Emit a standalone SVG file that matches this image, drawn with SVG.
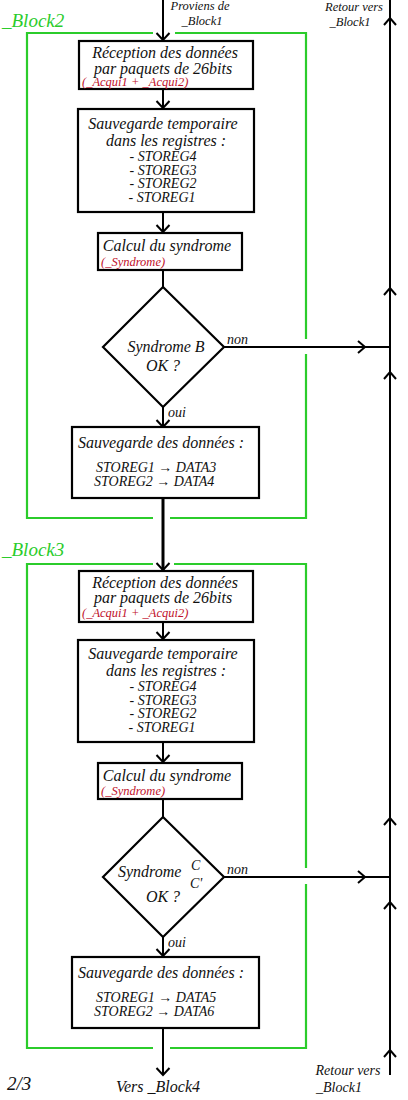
<svg xmlns="http://www.w3.org/2000/svg" width="408" height="1100" viewBox="0 0 408 1100">
<style>
text{font-family:"Liberation Serif","Times New Roman",serif;font-style:italic;fill:#111}
.m{font-size:16px}
.s{font-size:14px}
.r{font-size:12.5px;fill:#c0102a}
.sm{font-size:12.5px}
.lb{font-size:14px}
.g{font-size:19px;fill:#2bcc2b}
.c{text-anchor:middle}
.box{fill:#fff;stroke:#000;stroke-width:2.2}
.ln{fill:none;stroke:#000;stroke-width:2}
.thick{fill:none;stroke:#000;stroke-width:3}
.grn{fill:none;stroke:#2bcc2b;stroke-width:2.2}
</style>
<defs>
<marker id="arr" viewBox="0 0 16 16" markerWidth="16" markerHeight="16" refX="13" refY="8" orient="auto" markerUnits="userSpaceOnUse">
<path d="M6,1.5 L13,8 L6,14.5" fill="none" stroke="#000" stroke-width="2"/>
</marker>
<path id="up" d="M-6,7 L0,0 L6,7" fill="none" stroke="#000" stroke-width="2"/>
<path id="rt" d="M-7,-6 L0,0 L-7,6" fill="none" stroke="#000" stroke-width="2"/>
</defs>

<g id="frames">
<path class="grn" d="M175,33 H306 V339 M306,354 V518 H170 M153,518 H27 V33 H153"/>
<path class="grn" d="M174,564 H306 V868 M306,884 V1048 H170 M153,1048 H27 V564 H153"/>
<text class="g" x="2" y="27">_Block2</text>
<text class="g" x="2" y="556">_Block3</text>
</g>

<g id="connectors">
<line class="ln" x1="163" y1="0" x2="163" y2="40" marker-end="url(#arr)"/>
<line class="ln" x1="163" y1="89" x2="163" y2="108" marker-end="url(#arr)"/>
<line class="ln" x1="163" y1="212" x2="163" y2="232" marker-end="url(#arr)"/>
<line class="ln" x1="163" y1="270" x2="163" y2="287"/>
<line class="ln" x1="163" y1="407" x2="163" y2="427" marker-end="url(#arr)"/>
<line class="ln" x1="224" y1="347" x2="390" y2="347"/>
<use href="#rt" x="365" y="347"/>
<line class="thick" x1="163" y1="498" x2="163" y2="570" marker-end="url(#arr)"/>
<line class="ln" x1="163" y1="622" x2="163" y2="639" marker-end="url(#arr)"/>
<line class="ln" x1="163" y1="742" x2="163" y2="762" marker-end="url(#arr)"/>
<line class="ln" x1="163" y1="799" x2="163" y2="817"/>
<line class="ln" x1="163" y1="937" x2="163" y2="956" marker-end="url(#arr)"/>
<line class="ln" x1="224" y1="877" x2="390" y2="877"/>
<use href="#rt" x="365" y="877"/>
<line class="ln" x1="163" y1="1028" x2="163" y2="1075" marker-end="url(#arr)"/>
<line class="ln" x1="390" y1="0" x2="390" y2="1075"/>
<use href="#up" x="390" y="18"/>
<use href="#up" x="390" y="288"/>
<use href="#up" x="390" y="372"/>
<use href="#up" x="390" y="818"/>
<use href="#up" x="390" y="902"/>
<use href="#up" x="390" y="1050"/>
<text class="lb" x="227" y="344">non</text>
<text class="lb" x="168" y="417">oui</text>
<text class="lb" x="227" y="874">non</text>
<text class="lb" x="168" y="947">oui</text>
</g>

<g id="labels">
<text class="sm c" x="200" y="10">Proviens de</text>
<text class="sm c" x="202" y="25">_Block1</text>
<text class="sm c" x="354" y="11">Retour vers</text>
<text class="sm c" x="350" y="26">_Block1</text>
<text class="s c" x="348" y="1075">Retour vers</text>
<text class="s c" x="339" y="1092">_Block1</text>
<text class="m c" x="158" y="1092">Vers _Block4</text>
<text x="7" y="1090" style="font-size:19px">2/3</text>
</g>

<g id="b2-reception">
<rect class="box" x="79" y="41" width="174" height="48"/>
<text class="m c" x="165" y="58">Réception des données</text>
<text class="m c" x="163" y="74">par paquets de 26bits</text>
<text class="r" x="82" y="86">(_Acqui1 + _Acqui2)</text>
</g>

<g id="b2-sauvegarde-temp">
<rect class="box" x="78" y="109" width="176" height="103"/>
<text class="m c" x="163" y="129">Sauvegarde temporaire</text>
<text class="m c" x="166" y="146">dans les registres :</text>
<text class="s c" x="163" y="161">- STOREG4</text>
<text class="s c" x="163" y="174.5">- STOREG3</text>
<text class="s c" x="163" y="188">- STOREG2</text>
<text class="s c" x="162" y="201.5">- STOREG1</text>
</g>

<g id="b2-calcul">
<rect class="box" x="98" y="233" width="144" height="37"/>
<text class="m c" x="167" y="251">Calcul du syndrome</text>
<text class="r" x="101" y="266">(_Syndrome)</text>
</g>

<g id="b2-decision">
<polygon class="box" points="163,287 224,347 163,407 103,347"/>
<text class="m c" x="166" y="352">Syndrome B</text>
<text class="m c" x="163" y="371">OK ?</text>
</g>

<g id="b2-sauvegarde">
<rect class="box" x="72" y="427" width="187" height="71"/>
<text class="m" x="78" y="448">Sauvegarde des données :</text>
<text class="s" x="96" y="472">STOREG1 → DATA3</text>
<text class="s" x="94" y="485.5">STOREG2  → DATA4</text>
</g>

<g id="b3-reception">
<rect class="box" x="79" y="571" width="174" height="51"/>
<text class="m c" x="165" y="588">Réception des données</text>
<text class="m c" x="163" y="603">par paquets de 26bits</text>
<text class="r" x="82" y="617">(_Acqui1 + _Acqui2)</text>
</g>

<g id="b3-sauvegarde-temp">
<rect class="box" x="78" y="640" width="176" height="102"/>
<text class="m c" x="163" y="659">Sauvegarde temporaire</text>
<text class="m c" x="166" y="676">dans les registres :</text>
<text class="s c" x="163" y="691">- STOREG4</text>
<text class="s c" x="163" y="704.5">- STOREG3</text>
<text class="s c" x="163" y="718">- STOREG2</text>
<text class="s c" x="162" y="731.5">- STOREG1</text>
</g>

<g id="b3-calcul">
<rect class="box" x="98" y="763" width="144" height="36"/>
<text class="m c" x="167" y="781">Calcul du syndrome</text>
<text class="r" x="101" y="795">(_Syndrome)</text>
</g>

<g id="b3-decision">
<polygon class="box" points="163,817 224,877 163,937 103,877"/>
<text class="m" x="118" y="877">Syndrome</text>
<text class="s" x="191" y="870">C</text>
<text class="s" x="190" y="888">C'</text>
<text class="m c" x="163" y="902">OK ?</text>
</g>

<g id="b3-sauvegarde">
<rect class="box" x="72" y="957" width="187" height="71"/>
<text class="m" x="78" y="978">Sauvegarde des données :</text>
<text class="s" x="96" y="1002">STOREG1 → DATA5</text>
<text class="s" x="94" y="1015.5">STOREG2  → DATA6</text>
</g>
</svg>
